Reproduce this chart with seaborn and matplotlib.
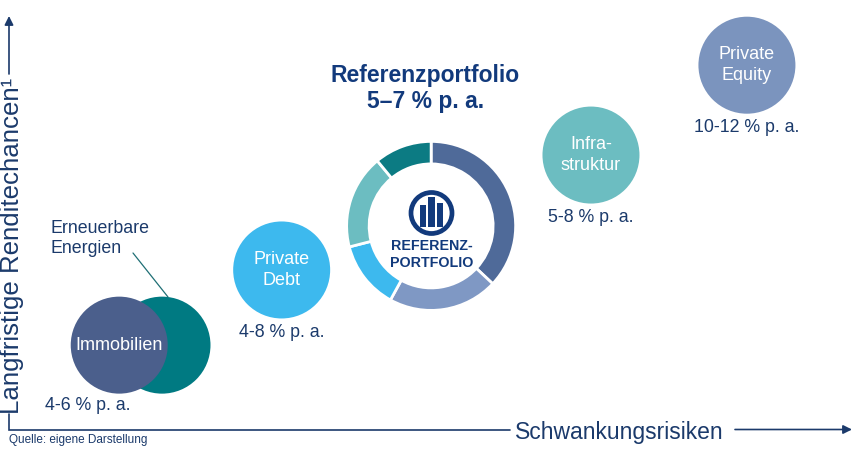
import matplotlib
matplotlib.use("Agg")
import matplotlib.pyplot as plt
import numpy as np
import pandas as pd
import seaborn as sns
from matplotlib.patches import Circle, Rectangle

# ---------------- data ----------------
assets = ["Immobilien", "Erneuerbare Energien", "Private Debt", "Infrastruktur", "Private Equity"]
bubble_labels = ["Immobilien", "", "Private\nDebt", "Infra-\nstruktur", "Private\nEquity"]
risk = [13.8, 18.75, 32.6, 68.4, 86.45]        # Schwankungsrisiken (relative scale)
returns = [12.6, 12.6, 21.3, 34.6, 45.0]       # Renditechancen (relative scale)
rate_labels = ["4-6 % p. a.", "", "4-8 % p. a.", "5-8 % p. a.", "10-12 % p. a."]

portfolio_assets = ["Immobilien", "Private Equity", "Private Debt", "Infrastruktur", "Erneuerbare Energien"]
portfolio_shares = [37, 21, 13, 18, 11]
portfolio_risk = 49.9
portfolio_return = 26.4
portfolio_title = "Referenzportfolio"
portfolio_rate = "5–7 % p. a."
portfolio_center = "REFERENZ-\nPORTFOLIO"

x_label = "Schwankungsrisiken"
y_label = "Langfristige Renditechancen¹"
source = "Quelle: eigene Darstellung"
ee_label = "Erneuerbare\nEnergien"

# ---------------- style ----------------
W, H, DPI = 864, 454, 100
U = W / 100.0  # pixels per data unit
palette = {
    "Immobilien": "#4b5f8c",
    "Erneuerbare Energien": "#007a82",
    "Private Debt": "#3db9ee",
    "Infrastruktur": "#6cbdc1",
    "Private Equity": "#7b94be",
}
donut_colors = {
    "Immobilien": "#4f6a99",
    "Erneuerbare Energien": "#0c7b83",
    "Private Debt": "#3db9ee",
    "Infrastruktur": "#6cbdc1",
    "Private Equity": "#7f98c4",
}
navy = "#1b3a6b"
title_blue = "#123a7c"

sns.set_theme(style="white")
plt.rcParams["font.family"] = ["Liberation Sans", "DejaVu Sans"]

fig = plt.figure(figsize=(W / DPI, H / DPI), dpi=DPI)
ax = fig.add_axes([0, 0, 1, 1])


def P(xp, yp):
    """pixel position -> data coordinates"""
    return xp / U, (H - yp) / U


# ---------------- bubbles ----------------
df = pd.DataFrame({"asset": assets, "risk": risk, "ret": returns,
                   "label": bubble_labels, "rate": rate_labels})
draw_df = df.iloc[[1, 0, 2, 3, 4]]
r_px = 48.5
s = (2 * r_px * 72 / DPI) ** 2
sns.scatterplot(data=draw_df, x="risk", y="ret", hue="asset", palette=palette,
                s=s, linewidth=0, legend=False, ax=ax, zorder=2)

rate_dx = {"Immobilien": -31}
for _, row in df.iterrows():
    if row["label"]:
        ax.text(row["risk"], row["ret"], row["label"], color="white", fontsize=13,
                ha="center", va="center", linespacing=1.3, zorder=3)
    if row["rate"]:
        dx = rate_dx.get(row["asset"], 0) / U
        dy = 65 / U if row["asset"] == "Immobilien" else 67 / U
        ax.text(row["risk"] + dx, row["ret"] - dy, row["rate"], color=navy,
                fontsize=12.8, ha="center", va="baseline", zorder=3)

# Erneuerbare Energien annotation
ax.text(*P(51, 233), "Erneuerbare", color=navy, fontsize=12.8, ha="left",
        va="baseline", zorder=3)
ax.text(*P(51, 253), "Energien", color=navy, fontsize=12.8, ha="left",
        va="baseline", zorder=3)
ax.plot(*zip(P(133, 253), P(168, 297)), color="#1f6f75", lw=0.9, zorder=3)

# ---------------- donut ----------------
ax.pie(portfolio_shares, colors=[donut_colors[a] for a in portfolio_assets],
       radius=84.5 / U, center=(portfolio_risk, portfolio_return), startangle=90,
       counterclock=False, frame=True,
       wedgeprops=dict(width=22.5 / U, edgecolor="white", linewidth=2.0))

# logo
lx, ly = P(431.5, 213)
ax.add_patch(Circle((lx, ly), 20.5 / U, fill=False, ec=title_blue, lw=3.4, zorder=4))
for x0, x1, top in [(420, 426, 205), (428, 434.5, 197), (436.5, 443, 203)]:
    bx, by = P(x0, 227)
    ax.add_patch(Rectangle((bx, by), (x1 - x0) / U, (227 - top) / U,
                           color=title_blue, lw=0, zorder=4))
ax.text(*P(432, 250), portfolio_center.split("\n")[0], color=title_blue, fontsize=10.3,
        fontweight="bold", ha="center", va="baseline", zorder=4)
ax.text(*P(432, 267), portfolio_center.split("\n")[1], color=title_blue, fontsize=10.3,
        fontweight="bold", ha="center", va="baseline", zorder=4)

# title
ax.text(*P(425.5, 82), portfolio_title, color=title_blue, fontsize=16.5,
        fontweight="bold", ha="center", va="baseline")
ax.text(*P(425.5, 108), portfolio_rate, color=title_blue, fontsize=16.5,
        fontweight="bold", ha="center", va="baseline")

# ---------------- axes ----------------
arrow = dict(arrowstyle="-|>", color=navy, lw=1.2, mutation_scale=13,
             shrinkA=0, shrinkB=0)
ax.plot(*zip(P(9, 414), P(9, 429.5), P(510, 429.5)), color=navy, lw=1.2,
        solid_joinstyle="miter")
ax.annotate("", xy=P(852, 429.5), xytext=P(735, 429.5), arrowprops=arrow)
ax.annotate("", xy=P(9, 16), xytext=P(9, 74), arrowprops=arrow)
ax.text(*P(619, 430), x_label, color=navy, fontsize=16.5, ha="center",
        va="center_baseline")
ax.text(*P(12, 246), y_label, color=navy, fontsize=18.6, ha="center",
        va="center", rotation=90)
ax.text(*P(9, 443), source, color=navy, fontsize=8.5, ha="left", va="baseline")

ax.set_xlim(0, 100)
ax.set_ylim(0, H / U)
ax.set_axis_off()
fig.savefig("out.png", dpi=DPI, facecolor="white")
